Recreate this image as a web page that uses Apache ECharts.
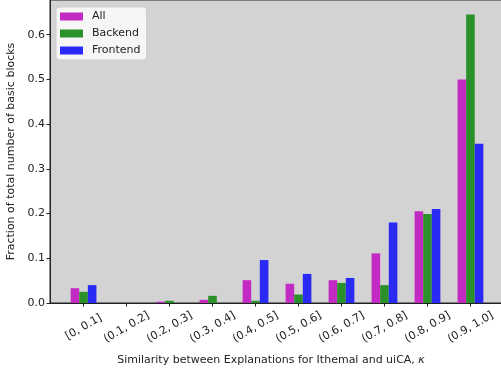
<!DOCTYPE html>
<html><head><meta charset="utf-8">
<script src="https://cdn.jsdelivr.net/npm/echarts@6/dist/echarts.min.js"></script>
<style>html,body{margin:0;padding:0;background:#fff}#c{width:501px;height:372px}</style>
</head><body><div id="c"></div>
<script>
const categories = ["[0, 0.1]","(0.1, 0.2]","(0.2, 0.3]","(0.3, 0.4]","(0.4, 0.5]","(0.5, 0.6]","(0.6, 0.7]","(0.7, 0.8]","(0.8, 0.9]","(0.9, 1.0]"];
const allVals      = [0.033, 0, 0.003, 0.007, 0.051, 0.043, 0.051, 0.111, 0.205, 0.500];
const backendVals  = [0.025, 0, 0.005, 0.016, 0.005, 0.019, 0.045, 0.040, 0.199, 0.645];
const frontendVals = [0.040, 0, 0, 0, 0.096, 0.065, 0.056, 0.180, 0.210, 0.356];
const yTicks = [0, 0.1, 0.2, 0.3, 0.4, 0.5, 0.6];
const seriesNames = ["All","Backend","Frontend"];
const seriesColors = ["#c32ac3","#2a902a","#2a2af6"];
const offsets = [-0.2, 0, 0.2];

const font = "DejaVu Sans";
const chart = echarts.init(document.getElementById('c'), null, {renderer:'canvas'});
const idx = categories.map((_, i) => i);
const vals = [allVals, backendVals, frontendVals];
chart.setOption({
  animation: false,
  backgroundColor: '#ffffff',
  textStyle: {fontFamily: font},
  grid: {left: 50, top: 0, right: -3, bottom: 69, containLabel: false, outerBoundsMode: 'none',
    show: true, backgroundColor: '#d3d3d3', borderColor: '#222', borderWidth: 1},
  legend: {
    left: 56, top: 7, orient: 'vertical', itemGap: 6, itemWidth: 23, itemHeight: 8,
    padding: [4, 6, 4, 4], backgroundColor: 'rgba(255,255,255,0.8)', borderColor: '#cccccc', borderWidth: 1, borderRadius: 3,
    textStyle: {fontFamily: font, fontSize: 11, color: '#222', padding: [0, 0, 0, 4]},
    data: seriesNames.map(n => ({name: n, icon: 'rect'}))
  },
  xAxis: {
    type: 'value', min: -0.78, max: 9.78,
    name: 'Similarity between Explanations for Ithemal and uiCA, {i|κ}',
    nameLocation: 'middle', nameGap: 52,
    nameTextStyle: {fontFamily: font, fontSize: 11, color: '#222', padding: [0, 12, 0, 0],
      rich: {i: {fontFamily: font, fontSize: 11, fontStyle: 'italic', color: '#222'}}},
    splitLine: {show: false},
    axisLine: {show: true, onZero: false, lineStyle: {color: '#222', width: 1}},
    axisTick: {show: true, length: 3.5, customValues: idx, lineStyle: {color: '#222'}},
    axisLabel: {customValues: idx, rotate: 30, align: 'center', verticalAlign: 'top', margin: 18,
      padding: [0, 6, 0, 0],
      fontFamily: font, fontSize: 11, color: '#222',
      formatter: v => categories[Math.round(v)]}
  },
  yAxis: {
    type: 'value', min: 0, max: 0.6775,
    name: 'Fraction of total number of basic blocks',
    nameLocation: 'middle', nameGap: 33,
    nameTextStyle: {fontFamily: font, fontSize: 11, color: '#222'},
    splitLine: {show: false},
    axisLine: {show: true, onZero: false, lineStyle: {color: '#222', width: 1}},
    axisTick: {show: true, length: 3.5, customValues: yTicks, lineStyle: {color: '#222'}},
    axisLabel: {customValues: yTicks, fontFamily: font, fontSize: 11, color: '#222', margin: 5,
      formatter: v => v.toFixed(1)}
  },
  series: seriesNames.map((n, s) => ({
    name: n, type: 'bar', barWidth: 8.6, barGap: '-100%',
    itemStyle: {color: seriesColors[s]},
    data: vals[s].map((v, i) => [i + offsets[s], v])
  }))
});
</script></body></html>
